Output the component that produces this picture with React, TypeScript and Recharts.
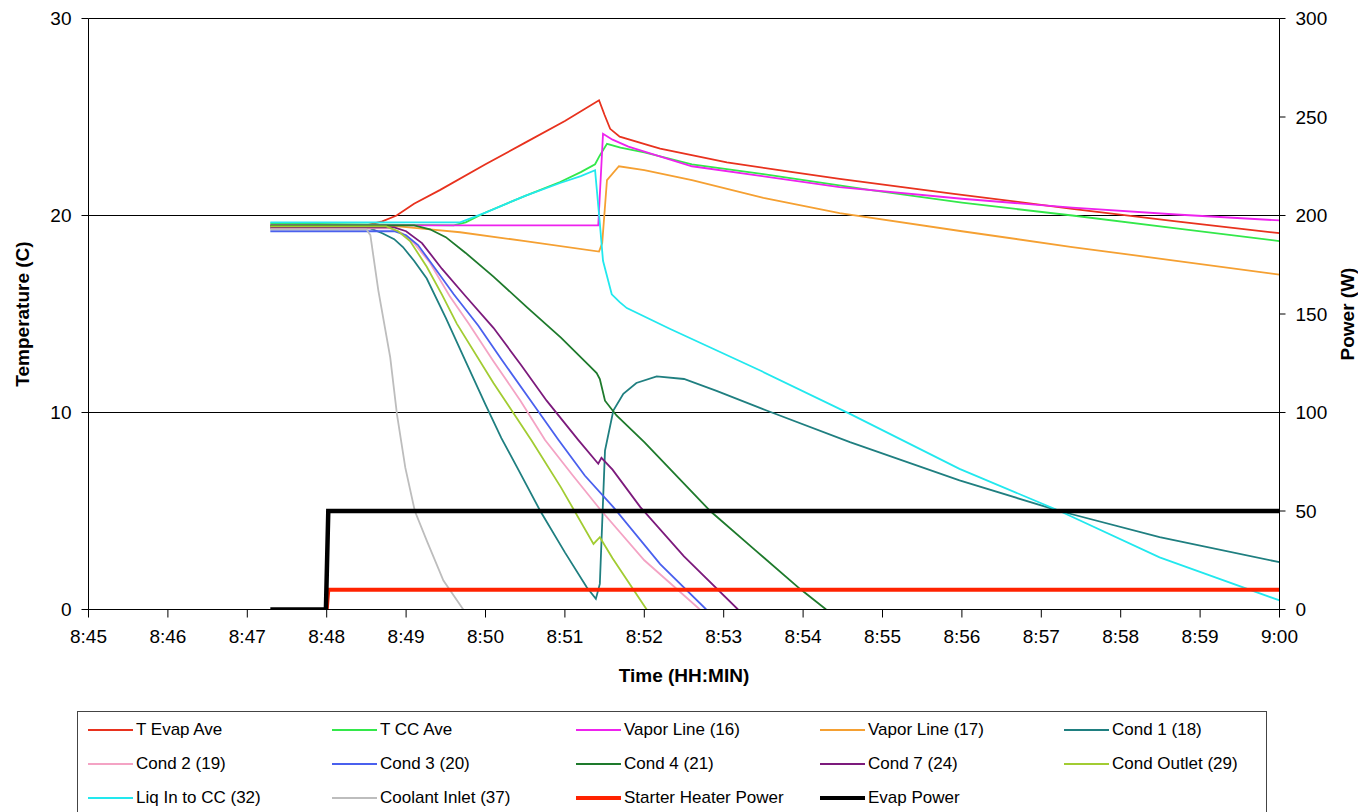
import React from 'react'
import { LineChart, Line, XAxis, YAxis, CartesianGrid, Label } from 'recharts'

type Pair = [number, number]

// time is minutes after 8:45
const tEvapAve: Pair[] = [[2.29, 19.5], [3.5, 19.5], [3.7, 19.7], [3.88, 20.0], [4.1, 20.6], [4.43, 21.3], [5.0, 22.6], [5.5, 23.7], [6.0, 24.8], [6.43, 25.85], [6.5, 25.1], [6.57, 24.4], [6.69, 24.0], [7.07, 23.55], [7.2, 23.4], [8.04, 22.7], [8.87, 22.2], [9.46, 21.86], [10.9, 21.1], [12.39, 20.34], [13.7, 19.7], [15, 19.1]]
const tCcAve: Pair[] = [[2.29, 19.6], [4.6, 19.5], [4.75, 19.65], [5.0, 20.15], [5.5, 21.0], [5.94, 21.7], [6.2, 22.2], [6.38, 22.6], [6.44, 23.05], [6.53, 23.64], [6.7, 23.45], [7.0, 23.2], [7.6, 22.6], [8.5, 22.1], [9.88, 21.27], [11, 20.65], [12.39, 20.0], [13.7, 19.35], [15, 18.7]]
const vaporLine16: Pair[] = [[2.29, 19.5], [6.42, 19.5], [6.48, 24.15], [6.6, 23.85], [6.8, 23.5], [7.6, 22.5], [9.46, 21.44], [11, 20.85], [12.39, 20.4], [13.7, 20.05], [15, 19.75]]
const vaporLine17: Pair[] = [[2.29, 19.45], [3.9, 19.45], [4.3, 19.3], [4.68, 19.15], [5.5, 18.7], [6.43, 18.17], [6.47, 18.6], [6.53, 21.8], [6.68, 22.5], [7.0, 22.3], [7.6, 21.8], [8.5, 20.9], [9.46, 20.12], [11, 19.2], [12.39, 18.4], [13.7, 17.7], [15, 17.0]]
const cond1: Pair[] = [[2.29, 19.35], [3.55, 19.35], [3.7, 19.1], [3.85, 18.8], [3.96, 18.4], [4.1, 17.7], [4.26, 16.8], [4.5, 14.8], [4.75, 12.6], [5.0, 10.4], [5.2, 8.7], [5.4, 7.2], [5.69, 5.0], [6.0, 2.9], [6.275, 1.13], [6.39, 0.54], [6.44, 1.3], [6.505, 8.07], [6.61, 10.1], [6.736, 10.95], [6.9, 11.5], [7.156, 11.83], [7.5, 11.7], [7.91, 11.1], [8.54, 10.1], [9.59, 8.5], [10.97, 6.55], [12.23, 5.0], [13.49, 3.67], [15, 2.4]]
const cond2: Pair[] = [[2.29, 19.35], [3.8, 19.35], [3.95, 19.1], [4.1, 18.6], [4.3, 17.6], [4.55, 15.9], [4.79, 14.5], [5.1, 12.6], [5.44, 10.6], [5.75, 8.6], [6.1, 6.8], [6.44, 5.1], [7.0, 2.5], [7.7, 0]]
const cond3: Pair[] = [[2.29, 19.2], [3.85, 19.2], [4.0, 19.0], [4.15, 18.5], [4.35, 17.4], [4.6, 16.0], [4.91, 14.4], [5.2, 12.7], [5.57, 10.6], [5.92, 8.6], [6.25, 6.8], [6.61, 5.2], [7.2, 2.3], [7.78, 0]]
const cond4: Pair[] = [[2.29, 19.5], [4.1, 19.5], [4.3, 19.3], [4.5, 18.9], [4.75, 18.1], [5.1, 16.9], [5.52, 15.35], [5.95, 13.8], [6.3, 12.4], [6.4, 12.0], [6.44, 11.7], [6.505, 10.6], [6.65, 9.85], [7.0, 8.5], [7.83, 5.0], [8.4, 3.0], [8.96, 1.05], [9.29, 0]]
const cond7: Pair[] = [[2.29, 19.4], [3.85, 19.4], [4.0, 19.2], [4.2, 18.6], [4.45, 17.3], [4.75, 15.9], [5.1, 14.3], [5.45, 12.4], [5.77, 10.6], [6.17, 8.6], [6.42, 7.4], [6.46, 7.7], [6.6, 7.1], [6.95, 5.2], [7.5, 2.7], [8.18, 0]]
const condOutlet: Pair[] = [[2.29, 19.45], [3.75, 19.45], [3.9, 19.2], [4.05, 18.7], [4.26, 17.4], [4.45, 16.0], [4.64, 14.5], [5.1, 11.5], [5.58, 8.58], [5.95, 6.2], [6.36, 3.33], [6.44, 3.67], [6.6, 2.6], [7.03, 0]]
const liqInToCc: Pair[] = [[2.29, 19.65], [4.68, 19.65], [5.0, 20.15], [5.5, 21.0], [5.94, 21.65], [6.2, 22.0], [6.38, 22.3], [6.44, 19.6], [6.48, 17.7], [6.59, 16.0], [6.69, 15.6], [6.78, 15.3], [7.32, 14.25], [8.46, 12.13], [9.59, 9.93], [10.97, 7.14], [12.23, 5.0], [13.49, 2.65], [15, 0.46]]
const coolantInlet: Pair[] = [[2.29, 19.3], [3.5, 19.3], [3.55, 19.0], [3.65, 16.2], [3.8, 12.8], [3.885, 9.9], [3.99, 7.2], [4.11, 5.0], [4.26, 3.5], [4.47, 1.47], [4.72, 0]]
const starterHeaterPower: Pair[] = [[3.0, 0], [3.02, 10], [15, 10]]
const evapPower: Pair[] = [[2.29, 0], [2.99, 0], [3.02, 50], [15, 50]]

const minuteTicks = [0, 1, 2, 3, 4, 5, 6, 7, 8, 9, 10, 11, 12, 13, 14, 15]
const minuteLabels = ['8:45', '8:46', '8:47', '8:48', '8:49', '8:50', '8:51', '8:52', '8:53', '8:54', '8:55', '8:56', '8:57', '8:58', '8:59', '9:00']
const tempTicks = [0, 10, 20, 30]
const powerTicks = [0, 50, 100, 150, 200, 250, 300]

const series = [
  { name: 'T Evap Ave', pts: tEvapAve, color: '#e8321e', w: 1.8, axis: 'temp' },
  { name: 'T CC Ave', pts: tCcAve, color: '#33e84a', w: 1.8, axis: 'temp' },
  { name: 'Vapor Line (16)', pts: vaporLine16, color: '#ee22ee', w: 1.8, axis: 'temp' },
  { name: 'Vapor Line (17)', pts: vaporLine17, color: '#f5a032', w: 1.8, axis: 'temp' },
  { name: 'Cond 1 (18)', pts: cond1, color: '#1f7f80', w: 1.8, axis: 'temp' },
  { name: 'Cond 2 (19)', pts: cond2, color: '#f4a3c4', w: 1.8, axis: 'temp' },
  { name: 'Cond 3 (20)', pts: cond3, color: '#4a60ee', w: 1.8, axis: 'temp' },
  { name: 'Cond 4 (21)', pts: cond4, color: '#1e7a2c', w: 1.8, axis: 'temp' },
  { name: 'Cond 7 (24)', pts: cond7, color: '#7c1a7c', w: 1.8, axis: 'temp' },
  { name: 'Cond Outlet (29)', pts: condOutlet, color: '#a2cc32', w: 1.8, axis: 'temp' },
  { name: 'Liq In to CC (32)', pts: liqInToCc, color: '#22e8ee', w: 1.8, axis: 'temp' },
  { name: 'Coolant Inlet (37)', pts: coolantInlet, color: '#bdbdbd', w: 1.8, axis: 'temp' },
  { name: 'Starter Heater Power', pts: starterHeaterPower, color: '#ff2200', w: 4, axis: 'power' },
  { name: 'Evap Power', pts: evapPower, color: '#000000', w: 4.5, axis: 'power' },
]

const FONT = '"Liberation Sans", Arial, sans-serif'
const tickStyle = { fill: '#000', fontSize: 19, fontFamily: FONT }
const titleStyle = { fill: '#000', fontSize: 19, fontWeight: 'bold', fontFamily: FONT, textAnchor: 'middle' } as React.CSSProperties

const LegendBox = () => (
  <div style={{ position: 'absolute', left: 77, top: 711, width: 1190, height: 110, border: '1px solid #444', boxSizing: 'border-box' }}>
    {series.map((s, i) => {
      const col = i % 5
      const row = Math.floor(i / 5)
      return (
        <div key={s.name} style={{ position: 'absolute', left: 10 + col * 244, top: 7 + row * 34, height: 22, display: 'flex', alignItems: 'center', fontSize: 17, fontFamily: FONT, color: '#000', whiteSpace: 'nowrap' }}>
          <span style={{ display: 'inline-block', width: 45, height: s.w > 3 ? 4 : 2, background: s.color, marginRight: 3 }} />
          {s.name}
        </div>
      )
    })}
  </div>
)

const App = () => {
  return (
    <div style={{ position: 'absolute', left: 0, top: 0, width: 1358, height: 812, background: '#fff', overflow: 'hidden' }}>
      <LineChart width={1358} height={700.5} margin={{ top: 18.5, right: 0, left: 0, bottom: 0 }}>
        <CartesianGrid yAxisId="temp" vertical={false} stroke="#000" strokeWidth={1} />
        <XAxis
          type="number"
          dataKey="t"
          domain={[0, 15]}
          ticks={minuteTicks}
          tickFormatter={(v: number) => minuteLabels[v]}
          height={91}
          tickSize={8}
          tickMargin={12}
          stroke="#000"
          tick={tickStyle}
          allowDataOverflow
        >
          <Label value="Time (HH:MIN)" position="insideBottom" offset={19} style={titleStyle} />
        </XAxis>
        <YAxis
          yAxisId="temp"
          domain={[0, 30]}
          ticks={tempTicks}
          width={88.5}
          tickSize={7}
          tickMargin={10}
          stroke="#000"
          tick={tickStyle}
          allowDataOverflow
        >
          <Label value="Temperature (C)" angle={-90} position="insideLeft" offset={22} style={titleStyle} />
        </YAxis>
        <YAxis
          yAxisId="power"
          orientation="right"
          domain={[0, 300]}
          ticks={powerTicks}
          width={78.5}
          tickSize={6}
          tickMargin={10}
          stroke="#000"
          tick={tickStyle}
          allowDataOverflow
        >
          <Label value="Power (W)" angle={-90} position="insideRight" offset={11} style={titleStyle} />
        </YAxis>
        {series.map(s => (
          <Line
            key={s.name}
            yAxisId={s.axis}
            data={s.pts.map(([t, v]) => ({ t, v }))}
            dataKey="v"
            name={s.name}
            type="linear"
            stroke={s.color}
            strokeWidth={s.w}
            dot={false}
            activeDot={false}
            isAnimationActive={false}
          />
        ))}
      </LineChart>
      <LegendBox />
    </div>
  )
}

export default App
